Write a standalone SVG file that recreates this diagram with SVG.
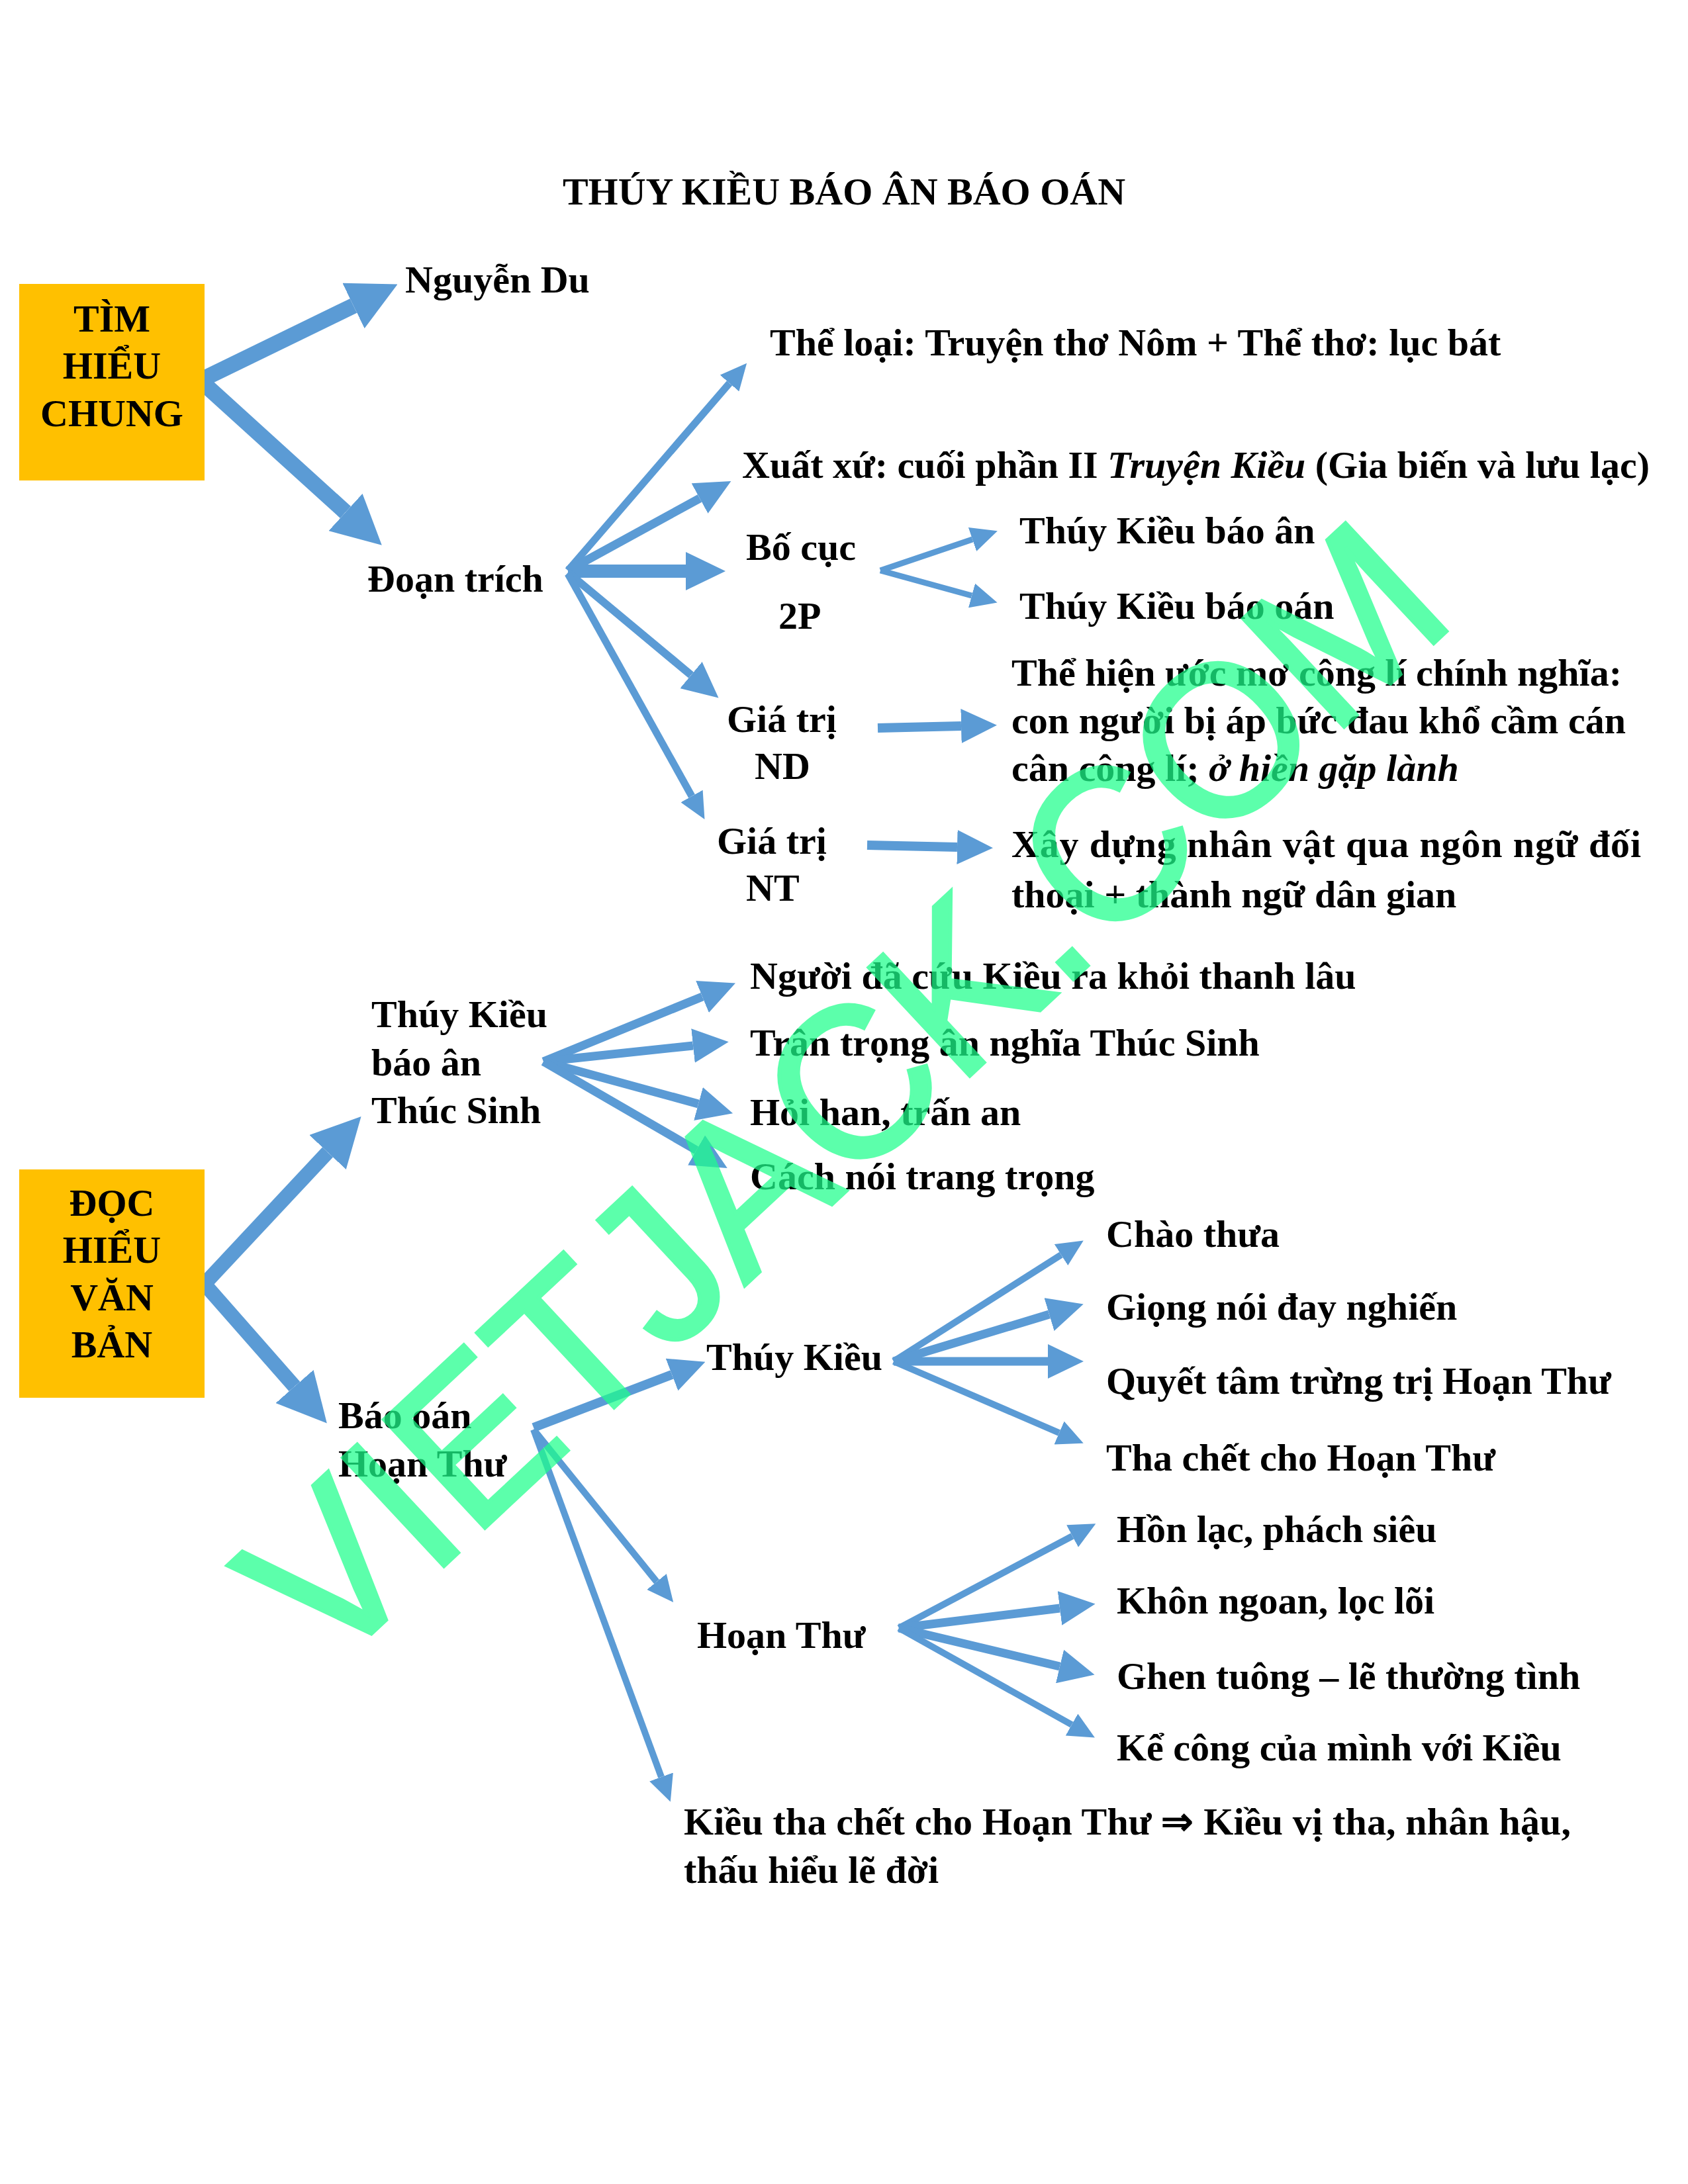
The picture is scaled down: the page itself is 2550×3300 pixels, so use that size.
<svg xmlns="http://www.w3.org/2000/svg" width="2550" height="3300" viewBox="0 0 2550 3300">
<style>
text{font-family:"Liberation Serif","Times New Roman",serif;font-weight:bold;font-size:58px;fill:#000}
.c{text-anchor:middle}
.i{font-style:italic}
.ln{stroke:#5B9BD5;fill:none;stroke-linecap:butt}
.box{fill:#FFC000}
.wm{font-family:"Liberation Sans",Arial,sans-serif;font-weight:normal;font-size:325px;fill:#1EFF8C;stroke:#1EFF8C;stroke-width:6;stroke-linejoin:miter;opacity:0.72}
</style>
<defs>
<marker id="hb" markerUnits="userSpaceOnUse" viewBox="0 0 74 76" markerWidth="74" markerHeight="76" refX="0" refY="38" orient="auto"><path d="M0,0 L74,38 L0,76 z" fill="#5B9BD5"/></marker>
<marker id="hx" markerUnits="userSpaceOnUse" viewBox="0 0 60 58" markerWidth="60" markerHeight="58" refX="0" refY="29" orient="auto"><path d="M0,0 L60,29 L0,58 z" fill="#5B9BD5"/></marker>
<marker id="hm" markerUnits="userSpaceOnUse" viewBox="0 0 54 52" markerWidth="54" markerHeight="52" refX="0" refY="26" orient="auto"><path d="M0,0 L54,26 L0,52 z" fill="#5B9BD5"/></marker>
<marker id="hs" markerUnits="userSpaceOnUse" viewBox="0 0 40 38" markerWidth="40" markerHeight="38" refX="0" refY="19" orient="auto"><path d="M0,0 L40,19 L0,38 z" fill="#5B9BD5"/></marker>
</defs>
<rect width="2550" height="3300" fill="#fff"/>
<text id="title" class="c" x="1275" y="309">THÚY KIỀU BÁO ÂN BÁO OÁN</text>

<g id="connectors">
<line class="ln" x1="306" y1="573" x2="534" y2="462" stroke-width="24" marker-end="url(#hb)"/>
<line class="ln" x1="306" y1="578" x2="522" y2="774" stroke-width="24" marker-end="url(#hb)"/>
<line class="ln" x1="858" y1="862" x2="1102" y2="579" stroke-width="11" marker-end="url(#hs)"/>
<line class="ln" x1="858" y1="862" x2="1057" y2="753" stroke-width="13" marker-end="url(#hm)"/>
<line class="ln" x1="858" y1="863" x2="1036" y2="863" stroke-width="20" marker-end="url(#hx)"/>
<line class="ln" x1="858" y1="865" x2="1044" y2="1020" stroke-width="12" marker-end="url(#hm)"/>
<line class="ln" x1="858" y1="867" x2="1045" y2="1203" stroke-width="11" marker-end="url(#hs)"/>
<line class="ln" x1="1330" y1="862" x2="1469" y2="815" stroke-width="9" marker-end="url(#hs)"/>
<line class="ln" x1="1330" y1="862" x2="1468" y2="900" stroke-width="9" marker-end="url(#hs)"/>
<line class="ln" x1="1326" y1="1100" x2="1452" y2="1097" stroke-width="14" marker-end="url(#hm)"/>
<line class="ln" x1="1310" y1="1277" x2="1446" y2="1280" stroke-width="14" marker-end="url(#hm)"/>
<line class="ln" x1="307" y1="1942" x2="495" y2="1741" stroke-width="22" marker-end="url(#hb)"/>
<line class="ln" x1="307" y1="1938" x2="445" y2="2095" stroke-width="22" marker-end="url(#hb)"/>
<line class="ln" x1="821" y1="1604" x2="1061" y2="1506" stroke-width="13" marker-end="url(#hm)"/>
<line class="ln" x1="821" y1="1604" x2="1047" y2="1580" stroke-width="13" marker-end="url(#hm)"/>
<line class="ln" x1="821" y1="1604" x2="1055" y2="1668" stroke-width="13" marker-end="url(#hm)"/>
<line class="ln" x1="821" y1="1604" x2="1052" y2="1738" stroke-width="13" marker-end="url(#hm)"/>
<line class="ln" x1="806" y1="2157" x2="1015" y2="2077" stroke-width="14" marker-end="url(#hm)"/>
<line class="ln" x1="806" y1="2160" x2="992" y2="2390" stroke-width="10" marker-end="url(#hs)"/>
<line class="ln" x1="806" y1="2160" x2="999" y2="2685" stroke-width="10" marker-end="url(#hs)"/>
<line class="ln" x1="1350" y1="2057" x2="1603" y2="1896" stroke-width="10" marker-end="url(#hs)"/>
<line class="ln" x1="1350" y1="2057" x2="1585" y2="1986" stroke-width="13" marker-end="url(#hm)"/>
<line class="ln" x1="1350" y1="2057" x2="1583" y2="2057" stroke-width="13" marker-end="url(#hm)"/>
<line class="ln" x1="1350" y1="2057" x2="1600" y2="2165" stroke-width="10" marker-end="url(#hs)"/>
<line class="ln" x1="1358" y1="2460" x2="1620" y2="2321" stroke-width="10" marker-end="url(#hs)"/>
<line class="ln" x1="1358" y1="2460" x2="1601" y2="2430" stroke-width="13" marker-end="url(#hm)"/>
<line class="ln" x1="1358" y1="2460" x2="1601" y2="2518" stroke-width="13" marker-end="url(#hm)"/>
<line class="ln" x1="1358" y1="2460" x2="1619" y2="2606" stroke-width="10" marker-end="url(#hs)"/>
</g>

<g id="n-timhieu"><rect class="box" x="29" y="429" width="280" height="297"/>
<text class="c" x="169" y="501">TÌM</text><text class="c" x="169" y="572">HIỂU</text><text class="c" x="169" y="644">CHUNG</text></g>
<g id="n-nguyendu"><text x="612" y="442">Nguyễn Du</text></g>
<g id="n-theloai"><text x="1163" y="537">Thể loại: Truyện thơ Nôm + Thể thơ: lục bát</text></g>
<g id="n-xuatxu"><text x="1121" y="722">Xuất xứ: cuối phần II <tspan class="i">Truyện Kiều</tspan> (Gia biến và lưu lạc)</text></g>
<g id="n-doantrich"><text x="555" y="894">Đoạn trích</text></g>
<g id="n-bocuc"><text x="1127" y="846">Bố cục</text><text x="1176" y="950">2P</text></g>
<g id="n-baoan1"><text x="1540" y="821">Thúy Kiều báo ân</text></g>
<g id="n-baooan1"><text x="1540" y="935">Thúy Kiều báo oán</text></g>
<g id="n-gtnd"><text x="1098" y="1106">Giá trị</text><text x="1140" y="1177">ND</text></g>
<g id="n-nd"><text x="1528" y="1036" textLength="922" lengthAdjust="spacing">Thể hiện ước mơ công lí chính nghĩa:</text>
<text x="1528" y="1108" textLength="928" lengthAdjust="spacing">con người bị áp bức đau khổ cầm cán</text>
<text x="1528" y="1180">cân công lí; <tspan class="i">ở hiền gặp lành</tspan></text></g>
<g id="n-gtnt"><text x="1083" y="1290">Giá trị</text><text x="1127" y="1361">NT</text></g>
<g id="n-nt"><text x="1528" y="1295" textLength="951" lengthAdjust="spacing">Xây dựng nhân vật qua ngôn ngữ đối</text>
<text x="1528" y="1371">thoại + thành ngữ dân gian</text></g>

<g id="n-dochieu"><rect class="box" x="29" y="1767" width="280" height="345"/>
<text class="c" x="169" y="1837">ĐỌC</text><text class="c" x="169" y="1908">HIỂU</text><text class="c" x="169" y="1980">VĂN</text><text class="c" x="169" y="2051">BẢN</text></g>
<g id="n-baoan2"><text x="561" y="1552">Thúy Kiều</text><text x="561" y="1625">báo ân</text><text x="561" y="1697">Thúc Sinh</text></g>
<g id="n-a1"><text x="1133" y="1494">Người đã cứu Kiều ra khỏi thanh lâu</text></g>
<g id="n-a2"><text x="1133" y="1595">Trân trọng ân nghĩa Thúc Sinh</text></g>
<g id="n-a3"><text x="1133" y="1700">Hỏi han, trấn an</text></g>
<g id="n-a4"><text x="1133" y="1797">Cách nói trang trọng</text></g>
<g id="n-baooan2"><text x="511" y="2158">Báo oán</text><text x="511" y="2231">Hoạn Thư</text></g>
<g id="n-tk"><text x="1067" y="2070">Thúy Kiều</text></g>
<g id="n-t1"><text x="1671" y="1884">Chào thưa</text></g>
<g id="n-t2"><text x="1671" y="1994">Giọng nói đay nghiến</text></g>
<g id="n-t3"><text x="1671" y="2106">Quyết tâm trừng trị Hoạn Thư</text></g>
<g id="n-t4"><text x="1671" y="2222">Tha chết cho Hoạn Thư</text></g>
<g id="n-ht"><text x="1053" y="2490">Hoạn Thư</text></g>
<g id="n-h1"><text x="1687" y="2330">Hồn lạc, phách siêu</text></g>
<g id="n-h2"><text x="1687" y="2438">Khôn ngoan, lọc lõi</text></g>
<g id="n-h3"><text x="1687" y="2552">Ghen tuông – lẽ thường tình</text></g>
<g id="n-h4"><text x="1687" y="2660">Kể công của mình với Kiều</text></g>
<g id="n-ket"><text x="1033" y="2772" textLength="1340" lengthAdjust="spacing">Kiều tha chết cho Hoạn Thư ⇒ Kiều vị tha, nhân hậu,</text>
<text x="1033" y="2845">thấu hiểu lẽ đời</text></g>

<text class="wm" x="0" y="0" transform="translate(495,2530) rotate(-43)" textLength="2337" lengthAdjust="spacingAndGlyphs">VIETJACK.COM</text>
</svg>
